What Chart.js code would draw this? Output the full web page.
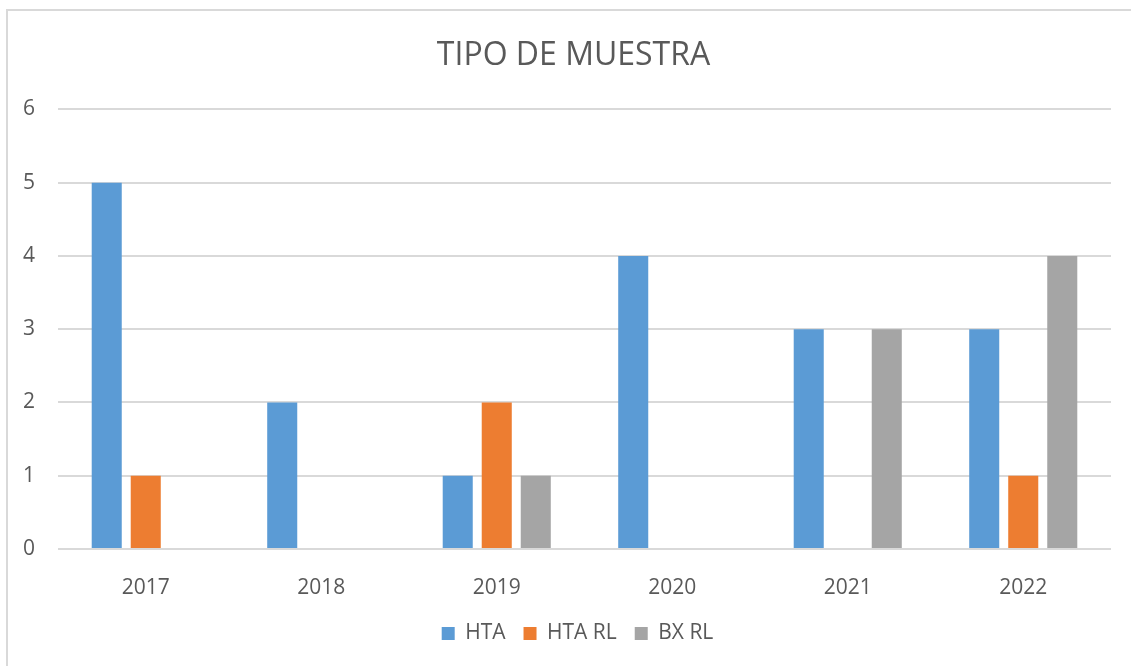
<!DOCTYPE html>
<html>
<head>
<meta charset="utf-8">
<style>
  html, body { margin: 0; padding: 0; background: #fff; }
  .frame {
    position: absolute; left: 6px; top: 9px; width: 1200px; height: 700px;
    border-left: 2px solid #d9d9d9; border-top: 2px solid #d9d9d9;
  }
  .wrap { position: absolute; left: 0; top: 0; width: 1131px; height: 666px; }
</style>
</head>
<body>
<div class="frame"></div>
<div class="wrap"><canvas id="chart" width="1131" height="666"></canvas></div>
<script src="https://cdn.jsdelivr.net/npm/chart.js@4"></script>
<script>
var years = ['2017', '2018', '2019', '2020', '2021', '2022'];
var hta = [5, 2, 1, 4, 3, 3];
var htaRl = [1, 0, 2, 0, 0, 1];
var bxRl = [0, 0, 1, 0, 3, 4];
var yTicks = [0, 1, 2, 3, 4, 5, 6];

var textColor = '#595959';
var fontFamily = '"Open Sans", "Noto Sans", sans-serif';

function ds(label, data, color) {
  return {
    label: label, data: data, backgroundColor: color, borderWidth: 0,
    categoryPercentage: 0.667, barPercentage: 0.77
  };
}

// nudge title and legend a little to the right, like the original
var nudgeBoxes = {
  id: 'nudgeBoxes',
  afterLayout: function(chart) {
    chart.titleBlock.left += 7; chart.titleBlock.right += 7;
    chart.legend.left += 11; chart.legend.right += 11;
  }
};

new Chart(document.getElementById('chart'), {
  type: 'bar',
  data: {
    labels: years,
    datasets: [
      ds('HTA', hta, '#5b9bd5'),
      ds('HTA RL', htaRl, '#ed7d31'),
      ds('BX RL', bxRl, '#a5a5a5')
    ]
  },
  plugins: [nudgeBoxes],
  options: {
    responsive: false,
    animation: false,
    layout: { padding: { left: 22, right: 20, top: 0, bottom: 12 } },
    plugins: {
      title: {
        display: true, text: 'TIPO DE MUESTRA', color: textColor,
        font: { family: fontFamily, size: 32, weight: 'normal' },
        padding: { top: 37, bottom: 34 }
      },
      legend: {
        position: 'bottom',
        labels: {
          color: textColor, boxWidth: 13, boxHeight: 13, padding: 18,
          font: { family: fontFamily, size: 21 }
        }
      },
      tooltip: { enabled: false }
    },
    scales: {
      x: {
        grid: { display: false },
        border: { display: false },
        ticks: { color: textColor, padding: 18, font: { family: fontFamily, size: 21 } },
        afterFit: function(scale) { scale.height = 56; }
      },
      y: {
        min: 0, max: 6,
        border: { display: false },
        grid: { color: '#d9d9d9', lineWidth: 2, drawTicks: false },
        afterBuildTicks: function(scale) { scale.ticks = yTicks.map(function(v) { return { value: v }; }); },
        ticks: { color: textColor, padding: 23, font: { family: fontFamily, size: 21 } },
        afterFit: function(scale) { scale.width = 36; }
      }
    }
  }
});
</script>
</body>
</html>
